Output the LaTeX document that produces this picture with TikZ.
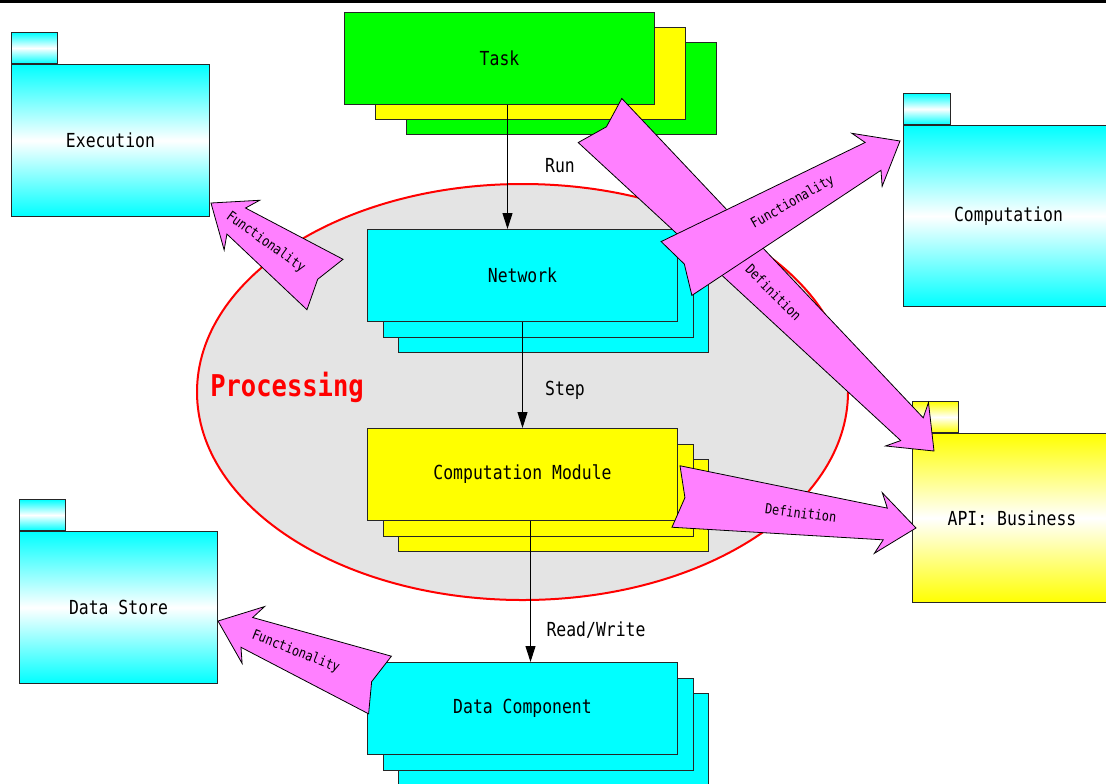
\documentclass[tikz,border=0pt]{standalone}
\usepackage{fontspec}
\setmainfont[FakeStretch=0.85]{DejaVu Sans Mono}
\usetikzlibrary{calc,arrows.meta,shapes.geometric}

\definecolor{boxcyan}{RGB}{0,255,255}
\definecolor{boxgreen}{RGB}{0,255,0}
\definecolor{boxyellow}{RGB}{255,255,0}
\definecolor{fatpink}{RGB}{255,128,255}
\definecolor{procgray}{RGB}{228,228,228}
\definecolor{procred}{RGB}{255,0,0}

\tikzset{
  stackbox/.style={draw=black!85, line width=0.75pt, rectangle, anchor=north west,
    minimum width=232.5pt, minimum height=69pt, inner sep=0pt},
  boxtext/.style={font=\fontsize{14.5}{16}\selectfont},
  pkgbody/.style={draw=black!85, line width=0.75pt, rectangle, anchor=north west, inner sep=0pt},
  pkgtab/.style={draw=black!85, line width=0.75pt, rectangle, anchor=south west, inner sep=0pt,
    minimum width=34.5pt, minimum height=23.25pt},
  cyanshade/.style={top color=boxcyan, bottom color=boxcyan, middle color=white},
  yellowshade/.style={top color=boxyellow, bottom color=boxyellow, middle color=white},
  conn/.style={line width=0.75pt, -{Triangle[length=12pt,width=7.5pt]}},
  fatarrow/.style={fill=fatpink, draw=black, line width=0.6pt, line join=miter},
  fatlabel/.style={font=\fontsize{10.5}{12}\selectfont, inner sep=0pt},
}

% broad tapered arrow with swept-back barbs and a notched tail:
% #1 = tail centre, #2 = tip, #3 = label written along the shaft
\newcommand\fatarrow[3]{%
  \coordinate (fa-b) at ($(#2)!28.5pt!(#1)$);
  \coordinate (fa-j) at ($(#2)!23.25pt!(#1)$);
  \draw[fatarrow] (#2)
    -- ($(fa-b)!22.9pt!90:(#2)$)
    -- ($(fa-j)!12pt!90:(#2)$)
    -- ($(#1)!23.25pt!90:(#2)$)
    -- ($(#1)!6.75pt!(#2)$)
    -- ($(#1)!23.25pt!-90:(#2)$)
    -- ($(fa-j)!12pt!-90:(#2)$)
    -- ($(fa-b)!22.9pt!-90:(#2)$)
    -- cycle;
  \path (#2) -- (#1) node[fatlabel, pos=0.48, sloped] {#3};
}

\begin{document}
\begin{tikzpicture}[x=0.75pt, y=-0.75pt]
\useasboundingbox (0,0) rectangle (1106,783);
\clip (0,0) rectangle (1106,783);

% rule along the top edge
\draw[line width=2.2pt] (0,1.6) -- (1106,1.6);

% processing region
\node[ellipse, draw=procred, line width=1.5pt, fill=procgray,
      minimum width=488.25pt, minimum height=312pt, inner sep=0pt] (proc) at (522.5,392) {};
\node[anchor=west, text=procred, inner sep=0pt,
      font=\fontsize{22.5}{26}\selectfont\bfseries] (proctitle) at (210,387) {Processing};

% stacked boxes
\node[stackbox, fill=boxgreen]  (task3) at (406,42) {};
\node[stackbox, fill=boxyellow] (task2) at (375,27) {};
\node[stackbox, fill=boxgreen, boxtext] (task) at (344,12) {Task};

\node[stackbox, fill=boxcyan] (net3) at (398,260) {};
\node[stackbox, fill=boxcyan] (net2) at (382.5,244.5) {};
\node[stackbox, fill=boxcyan, boxtext] (net) at (367,229) {Network};

\node[stackbox, fill=boxyellow] (cm3) at (398,459) {};
\node[stackbox, fill=boxyellow] (cm2) at (382.5,443.5) {};
\node[stackbox, fill=boxyellow, boxtext] (cm) at (367,428) {Computation Module};

\node[stackbox, fill=boxcyan] (dc3) at (398,693) {};
\node[stackbox, fill=boxcyan] (dc2) at (382.5,677.5) {};
\node[stackbox, fill=boxcyan, boxtext] (dc) at (367,662) {Data Component};

% packages
\node[pkgbody, cyanshade, boxtext, minimum width=148.5pt, minimum height=114pt] (exec) at (11,64) {Execution};
\node[pkgtab, cyanshade] (exectab) at (exec.north west) {};

\node[pkgbody, cyanshade, boxtext, minimum width=157.5pt, minimum height=135.75pt] (comp) at (903,125) {Computation};
\node[pkgtab, cyanshade, minimum width=35.25pt] (comptab) at (comp.north west) {};

\node[pkgbody, yellowshade, boxtext, minimum width=149.25pt, minimum height=126.75pt] (api) at (912,433) {API: Business};
\node[pkgtab, yellowshade] (apitab) at (api.north west) {};

\node[pkgbody, cyanshade, boxtext, minimum width=148.5pt, minimum height=114pt] (store) at (19,531) {Data Store};
\node[pkgtab, cyanshade] (storetab) at (store.north west) {};

% flow between the stacks
\draw[conn] ([xshift=6pt]task.south) -- ([xshift=6pt]task.south |- net.north);
\draw[conn] (net.south) -- (cm.north);
\draw[conn] ([xshift=6pt]cm.south) -- ([xshift=6pt]cm.south |- dc.north);
\node[boxtext] (runlbl)  at (560,166) {Run};
\node[boxtext] (steplbl) at (565,390) {Step};
\node[boxtext] (rwlbl)   at (596,630) {Read/Write};

% broad arrows
\coordinate (f1t) at (325,284.5); \coordinate (f1h) at (211,203);
\coordinate (f5t) at (380,685);   \coordinate (f5h) at (218,621);
\coordinate (d2t) at (676,496.5); \coordinate (d2h) at (916,528);
\coordinate (d1t) at (600,120.5); \coordinate (d1h) at (934,451);
\coordinate (f2t) at (676.5,268.5); \coordinate (f2h) at (900,141);

\fatarrow{f1t}{f1h}{Functionality}
\fatarrow{f5t}{f5h}{Functionality}
\fatarrow{d2t}{d2h}{Definition}
\fatarrow{d1t}{d1h}{Definition}
\fatarrow{f2t}{f2h}{Functionality}
\end{tikzpicture}
\end{document}
